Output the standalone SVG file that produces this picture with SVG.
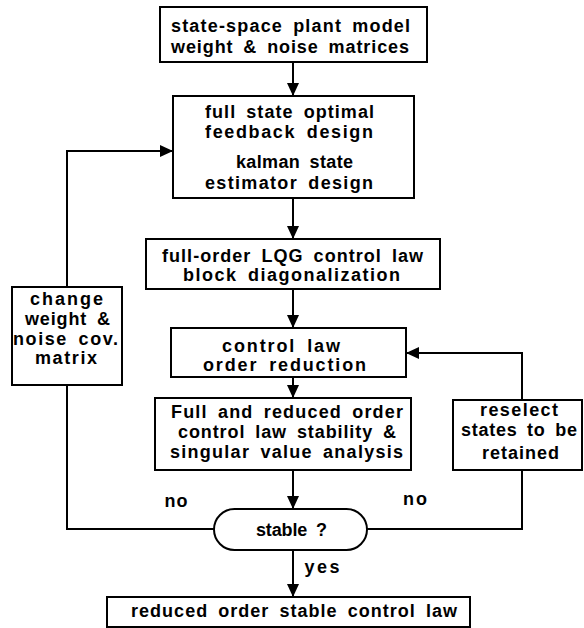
<svg xmlns="http://www.w3.org/2000/svg" width="584" height="628" viewBox="0 0 584 628">
<defs>
<style>
.box{fill:#fff;stroke:#000;stroke-width:2}
.t{font-family:"Liberation Sans",Arial,sans-serif;font-weight:bold;font-size:18px;word-spacing:4px;fill:#000;text-anchor:middle}
.c{fill:none;stroke:#000;stroke-width:2}
</style>
<marker id="ah" markerWidth="14" markerHeight="12" refX="13" refY="6" orient="auto" markerUnits="userSpaceOnUse">
<path d="M0,0 L13,6 L0,12 Z" fill="#000"/>
</marker>
</defs>
<rect width="584" height="628" fill="#fff"/>
<g id="connectors">
<line class="c" x1="293" y1="62" x2="293" y2="96" marker-end="url(#ah)"/>
<line class="c" x1="293" y1="198" x2="293" y2="239" marker-end="url(#ah)"/>
<line class="c" x1="293" y1="289" x2="293" y2="328" marker-end="url(#ah)"/>
<line class="c" x1="293" y1="377" x2="293" y2="398" marker-end="url(#ah)"/>
<line class="c" x1="293" y1="470" x2="293" y2="509" marker-end="url(#ah)"/>
<line class="c" x1="293" y1="550" x2="293" y2="597" marker-end="url(#ah)"/>
<polyline class="c" points="214,529 67,529 67,385"/>
<polyline class="c" points="67,287 67,151 173,151" marker-end="url(#ah)"/>
<polyline class="c" points="367,529 522,529 522,470"/>
<polyline class="c" points="522,400 522,353 406,353" marker-end="url(#ah)"/>
<text class="t" x="176" y="507" textLength="23">no</text>
<text class="t" x="415" y="505" textLength="24">no</text>
<text class="t" x="322" y="573" textLength="35">yes</text>
</g>
<g id="n1">
<rect class="box" x="160" y="7" width="267" height="55"/>
<text class="t" x="290.5" y="32" textLength="239">state-space plant model</text>
<text class="t" x="290" y="53" textLength="238">weight &amp; noise matrices</text>
</g>
<g id="n2">
<rect class="box" x="173" y="96" width="241" height="102"/>
<text class="t" x="289.5" y="118" textLength="169">full state optimal</text>
<text class="t" x="289" y="138" textLength="168">feedback design</text>
<text class="t" x="294.5" y="168" textLength="117">kalman state</text>
<text class="t" x="289" y="189" textLength="168">estimator design</text>
</g>
<g id="n3">
<rect class="box" x="146" y="239" width="294" height="50"/>
<text class="t" x="292.5" y="262" textLength="261">full-order LQG control law</text>
<text class="t" x="291.5" y="281" textLength="217">block diagonalization</text>
</g>
<g id="n4">
<rect class="box" x="171" y="328" width="235" height="49"/>
<text class="t" x="281" y="352" textLength="118">control law</text>
<text class="t" x="284.5" y="371" textLength="163">order reduction</text>
</g>
<g id="n5">
<rect class="box" x="155" y="398" width="256" height="72"/>
<text class="t" x="287" y="418" textLength="232">Full and reduced order</text>
<text class="t" x="287" y="438" textLength="218">control law stability &amp;</text>
<text class="t" x="286.5" y="458" textLength="233">singular value analysis</text>
</g>
<g id="n6">
<rect class="box" x="12" y="287" width="110" height="98"/>
<text class="t" x="66.5" y="305" textLength="73">change</text>
<text class="t" x="67.5" y="325" textLength="85">weight &amp;</text>
<text class="t" x="65.5" y="345" textLength="105">noise cov.</text>
<text class="t" x="66" y="364" textLength="62">matrix</text>
</g>
<g id="n7">
<rect class="box" x="453" y="400" width="129" height="70"/>
<text class="t" x="519" y="416" textLength="78">reselect</text>
<text class="t" x="519" y="436" textLength="116">states to be</text>
<text class="t" x="520.5" y="459" textLength="77">retained</text>
</g>
<g id="n8">
<rect class="box" x="214" y="509" width="153" height="41" rx="20.5" ry="20.5"/>
<text class="t" x="291.5" y="536" textLength="71">stable ?</text>
</g>
<g id="n9">
<rect class="box" x="107" y="597" width="363" height="30"/>
<text class="t" x="294" y="617" textLength="326">reduced order stable control law</text>
</g>
</svg>
